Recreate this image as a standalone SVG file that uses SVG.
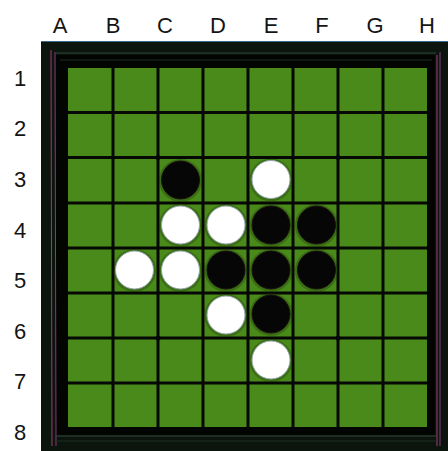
<svg xmlns="http://www.w3.org/2000/svg" width="448" height="451" viewBox="0 0 448 451">
<style>
.lbl{font-family:"Liberation Sans",Arial,sans-serif;font-size:22px;fill:#141414;text-anchor:middle}
.grid line{stroke:#050805;stroke-width:3}
.w{fill:#ffffff;stroke:#9aa6b4;stroke-width:1}
.b{fill:#060606;stroke:#1a1010;stroke-width:1}
.halo{fill:#1e3a08;opacity:0.35}
</style>
<rect width="448" height="451" fill="#ffffff"/>
<g id="labels">
<text class="lbl" x="60" y="33">A</text>
<text class="lbl" x="113" y="33">B</text>
<text class="lbl" x="165" y="33">C</text>
<text class="lbl" x="218" y="33">D</text>
<text class="lbl" x="271" y="33">E</text>
<text class="lbl" x="322" y="33">F</text>
<text class="lbl" x="375" y="33">G</text>
<text class="lbl" x="427" y="33">H</text>
<text class="lbl" x="20" y="86">1</text>
<text class="lbl" x="20" y="136">2</text>
<text class="lbl" x="20" y="187">3</text>
<text class="lbl" x="20" y="238">4</text>
<text class="lbl" x="20" y="288">5</text>
<text class="lbl" x="20" y="339">6</text>
<text class="lbl" x="20" y="389">7</text>
<text class="lbl" x="20" y="440">8</text>
</g>
<g id="frame">
<rect x="41" y="41" width="407" height="410" fill="#0c140e"/>
<line x1="41" y1="41.5" x2="448" y2="41.5" stroke="#3d6a8c" stroke-width="1"/>
<rect x="55" y="55" width="380" height="380" fill="#030503"/>
<line x1="51" y1="50" x2="52" y2="446" stroke="#a03a6e" stroke-width="1"/>
<line x1="55" y1="52" x2="56" y2="446" stroke="#8a3a80" stroke-width="1"/>
<line x1="437" y1="55" x2="437" y2="446" stroke="#a03a6e" stroke-width="1"/>
<line x1="440" y1="52" x2="440" y2="446" stroke="#8a3a80" stroke-width="1"/>
<line x1="56" y1="53" x2="436" y2="53" stroke="#2f4a36" stroke-width="1"/>
<line x1="60" y1="60" x2="432" y2="60" stroke="#1c2e20" stroke-width="1"/>
<line x1="56" y1="436" x2="436" y2="436" stroke="#2f4a36" stroke-width="1"/>
<line x1="56" y1="441" x2="436" y2="441" stroke="#1c2e20" stroke-width="1"/>
</g>
<g id="board">
<rect x="68" y="68" width="359" height="359" fill="#4a8a1a"/>
<g class="grid">
<line x1="113" y1="68" x2="113" y2="427"/>
<line x1="158" y1="68" x2="158" y2="427"/>
<line x1="203" y1="68" x2="203" y2="427"/>
<line x1="248" y1="68" x2="248" y2="427"/>
<line x1="293" y1="68" x2="293" y2="427"/>
<line x1="338" y1="68" x2="338" y2="427"/>
<line x1="383" y1="68" x2="383" y2="427"/>
<line x1="68" y1="112.5" x2="427" y2="112.5"/>
<line x1="68" y1="157.5" x2="427" y2="157.5"/>
<line x1="68" y1="203" x2="427" y2="203"/>
<line x1="68" y1="248" x2="427" y2="248"/>
<line x1="68" y1="293" x2="427" y2="293"/>
<line x1="68" y1="338" x2="427" y2="338"/>
<line x1="68" y1="383" x2="427" y2="383"/>
</g>
<circle cx="158" cy="157.5" r="2.5" fill="#050805"/>
<circle cx="338" cy="157.5" r="2.5" fill="#050805"/>
<circle cx="158" cy="338" r="2.5" fill="#050805"/>
<circle cx="338" cy="338" r="2.5" fill="#050805"/>
</g>
<g id="pieces">
<g id="C3"><circle class="halo" cx="180.5" cy="180.5" r="21.5"/><circle class="b" cx="180.5" cy="180" r="19"/></g>
<g id="E3"><circle class="halo" cx="271" cy="180" r="21.5"/><circle class="w" cx="271" cy="179.5" r="19"/></g>
<g id="C4"><circle class="halo" cx="180.5" cy="225.5" r="21.5"/><circle class="w" cx="180.5" cy="225" r="19"/></g>
<g id="D4"><circle class="halo" cx="226" cy="225.5" r="21.5"/><circle class="w" cx="226" cy="225" r="19"/></g>
<g id="E4"><circle class="halo" cx="271" cy="225.5" r="21.5"/><circle class="b" cx="271" cy="225" r="19"/></g>
<g id="F4"><circle class="halo" cx="316.5" cy="225.5" r="21.5"/><circle class="b" cx="316.5" cy="225" r="19"/></g>
<g id="B5"><circle class="halo" cx="134.5" cy="270.5" r="21.5"/><circle class="w" cx="134.5" cy="270" r="19"/></g>
<g id="C5"><circle class="halo" cx="180.5" cy="270.5" r="21.5"/><circle class="w" cx="180.5" cy="270" r="19"/></g>
<g id="D5"><circle class="halo" cx="226" cy="270.5" r="21.5"/><circle class="b" cx="226" cy="270" r="19"/></g>
<g id="E5"><circle class="halo" cx="271" cy="270.5" r="21.5"/><circle class="b" cx="271" cy="270" r="19"/></g>
<g id="F5"><circle class="halo" cx="316.5" cy="270.5" r="21.5"/><circle class="b" cx="316.5" cy="270" r="19"/></g>
<g id="D6"><circle class="halo" cx="226" cy="315.5" r="21.5"/><circle class="w" cx="226" cy="315" r="19"/></g>
<g id="E6"><circle class="halo" cx="271" cy="314.5" r="21.5"/><circle class="b" cx="271" cy="314" r="19"/></g>
<g id="E7"><circle class="halo" cx="271" cy="360.5" r="21.5"/><circle class="w" cx="271" cy="360" r="19"/></g>
</g>
</svg>
